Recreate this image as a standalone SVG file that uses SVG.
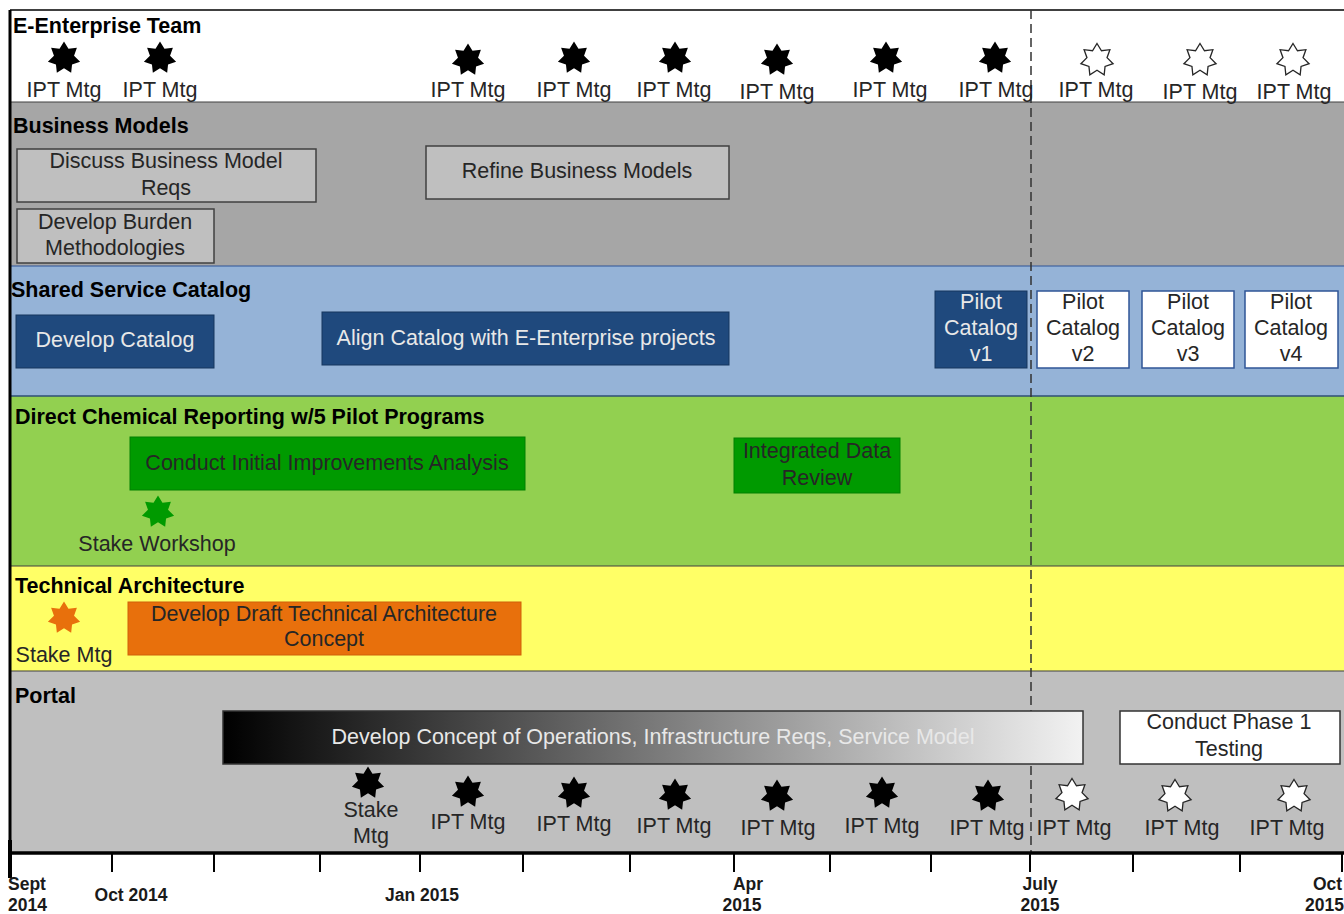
<svg xmlns="http://www.w3.org/2000/svg" width="1344" height="914" viewBox="0 0 1344 914">
<style>
.title{font-family:"Liberation Sans",Arial,sans-serif;font-weight:bold;font-size:21.5px;fill:#000}
.t{font-family:"Liberation Sans",Arial,sans-serif;font-size:21.5px;fill:#262626;text-anchor:middle}
.tw{font-family:"Liberation Sans",Arial,sans-serif;font-size:21.5px;fill:#e8e8e8;text-anchor:middle}
.ax{font-family:"Liberation Sans",Arial,sans-serif;font-weight:bold;font-size:17.5px;fill:#1a1a1a}
.gbox{fill:#bfbfbf;stroke:#404040;stroke-width:1.5}
.bbox{fill:#1f497d;stroke:#17375e;stroke-width:1}
.wbox{fill:#fff;stroke:#2f5597;stroke-width:1.5}
.green{fill:#009a00;stroke:#008000;stroke-width:1}
.orange{fill:#e8700c;stroke:#d06008;stroke-width:1}
.sb{fill:#000}
.sw{fill:#fff;stroke:#262626;stroke-width:1.3}
.lane-line{stroke:#404040;stroke-width:1.2}
.tick{stroke:#000;stroke-width:2}
</style>
<defs>
<path id="star" d="M0,-16.5 L4.47,-9.28 L12.9,-10.29 L10.04,-2.3 L16.09,3.67 L8.05,6.42 L7.16,14.87 L0,10.3 L-7.16,14.87 L-8.05,6.42 L-16.09,3.67 L-10.04,-2.3 L-12.9,-10.29 L-4.47,-9.28 Z"/>
<linearGradient id="grad" x1="0" y1="0" x2="1" y2="0">
<stop offset="0" stop-color="#000"/>
<stop offset="1" stop-color="#f2f2f2"/>
</linearGradient>
</defs>
<rect width="1344" height="914" fill="#fff"/>

<g id="lanes">
<rect x="10" y="10" width="1334" height="92" fill="#fff"/>
<rect x="10" y="102" width="1334" height="164" fill="#a6a6a6"/>
<rect x="10" y="266" width="1334" height="130" fill="#95b3d7"/>
<rect x="10" y="396" width="1334" height="170" fill="#92d050"/>
<rect x="10" y="566" width="1334" height="105" fill="#ffff66"/>
<rect x="10" y="671" width="1334" height="182" fill="#bfbfbf"/>
<line x1="10" y1="10" x2="1344" y2="10" stroke="#000" stroke-width="1.5"/>
<line class="lane-line" x1="10" y1="102" x2="1344" y2="102"/>
<line x1="10" y1="266" x2="1344" y2="266" stroke="#2f5597" stroke-width="1.2"/>
<line x1="10" y1="396" x2="1344" y2="396" stroke="#2f4f75" stroke-width="1.5"/>
<line class="lane-line" x1="10" y1="566" x2="1344" y2="566"/>
<line class="lane-line" x1="10" y1="671" x2="1344" y2="671"/>
<line x1="10" y1="10" x2="10" y2="853" stroke="#000" stroke-width="3"/>
<text class="title" x="13" y="33">E-Enterprise Team</text>
<text class="title" x="13" y="133">Business Models</text>
<text class="title" x="11" y="297">Shared Service Catalog</text>
<text class="title" x="15" y="424">Direct Chemical Reporting w/5 Pilot Programs</text>
<text class="title" x="15" y="593">Technical Architecture</text>
<text class="title" x="15" y="703">Portal</text>
</g>

<g id="connectors">
<line x1="1031" y1="10" x2="1031" y2="853" stroke="#333" stroke-width="1.5" stroke-dasharray="9,5"/>
</g>

<g id="team-meetings">
<use href="#star" class="sb" x="64" y="58"/>
<use href="#star" class="sb" x="160" y="58"/>
<use href="#star" class="sb" x="468" y="60"/>
<use href="#star" class="sb" x="574" y="58"/>
<use href="#star" class="sb" x="675" y="58"/>
<use href="#star" class="sb" x="777" y="60"/>
<use href="#star" class="sb" x="886" y="58"/>
<use href="#star" class="sb" x="995" y="58"/>
<use href="#star" class="sw" x="1097" y="60"/>
<use href="#star" class="sw" x="1200" y="60"/>
<use href="#star" class="sw" x="1293" y="60"/>
<text class="t" x="64" y="97">IPT Mtg</text>
<text class="t" x="160" y="97">IPT Mtg</text>
<text class="t" x="468" y="97">IPT Mtg</text>
<text class="t" x="574" y="97">IPT Mtg</text>
<text class="t" x="674" y="97">IPT Mtg</text>
<text class="t" x="777" y="99">IPT Mtg</text>
<text class="t" x="890" y="97">IPT Mtg</text>
<text class="t" x="996" y="97">IPT Mtg</text>
<text class="t" x="1096" y="97">IPT Mtg</text>
<text class="t" x="1200" y="99">IPT Mtg</text>
<text class="t" x="1294" y="99">IPT Mtg</text>
</g>

<g id="discuss-business-model-reqs">
<rect class="gbox" x="17" y="149" width="299" height="53"/>
<text class="t" x="166" y="168">Discuss Business Model</text>
<text class="t" x="166" y="195">Reqs</text>
</g>
<g id="develop-burden-methodologies">
<rect class="gbox" x="17" y="209" width="197" height="54"/>
<text class="t" x="115" y="229">Develop Burden</text>
<text class="t" x="115" y="255">Methodologies</text>
</g>
<g id="refine-business-models">
<rect class="gbox" x="426" y="146" width="303" height="53"/>
<text class="t" x="577" y="178">Refine Business Models</text>
</g>

<g id="develop-catalog">
<rect class="bbox" x="16" y="315" width="198" height="53"/>
<text class="tw" x="115" y="347">Develop Catalog</text>
</g>
<g id="align-catalog">
<rect class="bbox" x="322" y="312" width="407" height="53"/>
<text class="tw" x="526" y="345">Align Catalog with E-Enterprise projects</text>
</g>
<g id="pilot-v1">
<rect class="bbox" x="935" y="291" width="92" height="77"/>
<text class="tw" x="981" y="309">Pilot</text>
<text class="tw" x="981" y="335">Catalog</text>
<text class="tw" x="981" y="361">v1</text>
</g>
<g id="pilot-v2">
<rect class="wbox" x="1037" y="291" width="92" height="77"/>
<text class="t" x="1083" y="309">Pilot</text>
<text class="t" x="1083" y="335">Catalog</text>
<text class="t" x="1083" y="361">v2</text>
</g>
<g id="pilot-v3">
<rect class="wbox" x="1142" y="291" width="92" height="77"/>
<text class="t" x="1188" y="309">Pilot</text>
<text class="t" x="1188" y="335">Catalog</text>
<text class="t" x="1188" y="361">v3</text>
</g>
<g id="pilot-v4">
<rect class="wbox" x="1245" y="291" width="93" height="77"/>
<text class="t" x="1291" y="309">Pilot</text>
<text class="t" x="1291" y="335">Catalog</text>
<text class="t" x="1291" y="361">v4</text>
</g>

<g id="conduct-initial-improvements">
<rect class="green" x="130" y="437" width="395" height="53"/>
<text class="t" x="327" y="470" fill="#1a1a1a">Conduct Initial Improvements Analysis</text>
</g>
<g id="integrated-data-review">
<rect class="green" x="734" y="438" width="166" height="55"/>
<text class="t" x="817" y="458">Integrated Data</text>
<text class="t" x="817" y="485">Review</text>
</g>
<g id="stake-workshop">
<use href="#star" x="158" y="512" fill="#009a00"/>
<text class="t" x="157" y="551">Stake Workshop</text>
</g>

<g id="tech-stake-mtg">
<use href="#star" x="64" y="618" fill="#e8700c"/>
<text class="t" x="64" y="662">Stake Mtg</text>
</g>
<g id="develop-draft-tech-arch">
<rect class="orange" x="128" y="602" width="393" height="53"/>
<text class="t" x="324" y="621">Develop Draft Technical Architecture</text>
<text class="t" x="324" y="646">Concept</text>
</g>

<g id="develop-concept-ops">
<rect x="223" y="711" width="860" height="53" fill="url(#grad)" stroke="#333" stroke-width="1.5"/>
<text class="tw" x="653" y="744" fill="#f2f2f2">Develop Concept of Operations, Infrastructure Reqs, Service Model</text>
</g>
<g id="conduct-phase1-testing">
<rect x="1120" y="711" width="220" height="53" fill="#fff" stroke="#333" stroke-width="1.5"/>
<text class="t" x="1229" y="729">Conduct Phase 1</text>
<text class="t" x="1229" y="756">Testing</text>
</g>
<g id="portal-meetings">
<use href="#star" class="sb" x="368" y="783"/>
<text class="t" x="371" y="817">Stake</text>
<text class="t" x="371" y="843">Mtg</text>
<use href="#star" class="sb" x="468" y="792"/>
<use href="#star" class="sb" x="574" y="793"/>
<use href="#star" class="sb" x="675" y="795"/>
<use href="#star" class="sb" x="777" y="796"/>
<use href="#star" class="sb" x="882" y="793"/>
<use href="#star" class="sb" x="988" y="796"/>
<use href="#star" class="sw" x="1072" y="795"/>
<use href="#star" class="sw" x="1175" y="796"/>
<use href="#star" class="sw" x="1294" y="796"/>
<text class="t" x="468" y="829">IPT Mtg</text>
<text class="t" x="574" y="831">IPT Mtg</text>
<text class="t" x="674" y="833">IPT Mtg</text>
<text class="t" x="778" y="835">IPT Mtg</text>
<text class="t" x="882" y="833">IPT Mtg</text>
<text class="t" x="987" y="835">IPT Mtg</text>
<text class="t" x="1074" y="835">IPT Mtg</text>
<text class="t" x="1182" y="835">IPT Mtg</text>
<text class="t" x="1287" y="835">IPT Mtg</text>
</g>

<g id="time-axis">
<line x1="9" y1="853" x2="1344" y2="853" stroke="#000" stroke-width="3.5"/>
<line x1="10" y1="840" x2="10" y2="878" stroke="#000" stroke-width="4"/>
<line class="tick" x1="112" y1="853" x2="112" y2="872"/>
<line class="tick" x1="214" y1="853" x2="214" y2="872"/>
<line class="tick" x1="320" y1="853" x2="320" y2="872"/>
<line class="tick" x1="420" y1="853" x2="420" y2="872"/>
<line class="tick" x1="523" y1="853" x2="523" y2="872"/>
<line class="tick" x1="630" y1="853" x2="630" y2="872"/>
<line class="tick" x1="734" y1="853" x2="734" y2="872"/>
<line class="tick" x1="830" y1="853" x2="830" y2="872"/>
<line class="tick" x1="931" y1="853" x2="931" y2="872"/>
<line class="tick" x1="1030" y1="853" x2="1030" y2="872"/>
<line class="tick" x1="1133" y1="853" x2="1133" y2="872"/>
<line class="tick" x1="1240" y1="853" x2="1240" y2="872"/>
<line class="tick" x1="1342" y1="853" x2="1342" y2="872"/>
<text class="ax" x="8" y="890">Sept</text>
<text class="ax" x="8" y="911">2014</text>
<text class="ax" x="131" y="901" text-anchor="middle">Oct 2014</text>
<text class="ax" x="422" y="901" text-anchor="middle">Jan 2015</text>
<text class="ax" x="748" y="890" text-anchor="middle">Apr</text>
<text class="ax" x="742" y="911" text-anchor="middle">2015</text>
<text class="ax" x="1040" y="890" text-anchor="middle">July</text>
<text class="ax" x="1040" y="911" text-anchor="middle">2015</text>
<text class="ax" x="1313" y="890">Oct</text>
<text class="ax" x="1305" y="911">2015</text>
</g>
</svg>
